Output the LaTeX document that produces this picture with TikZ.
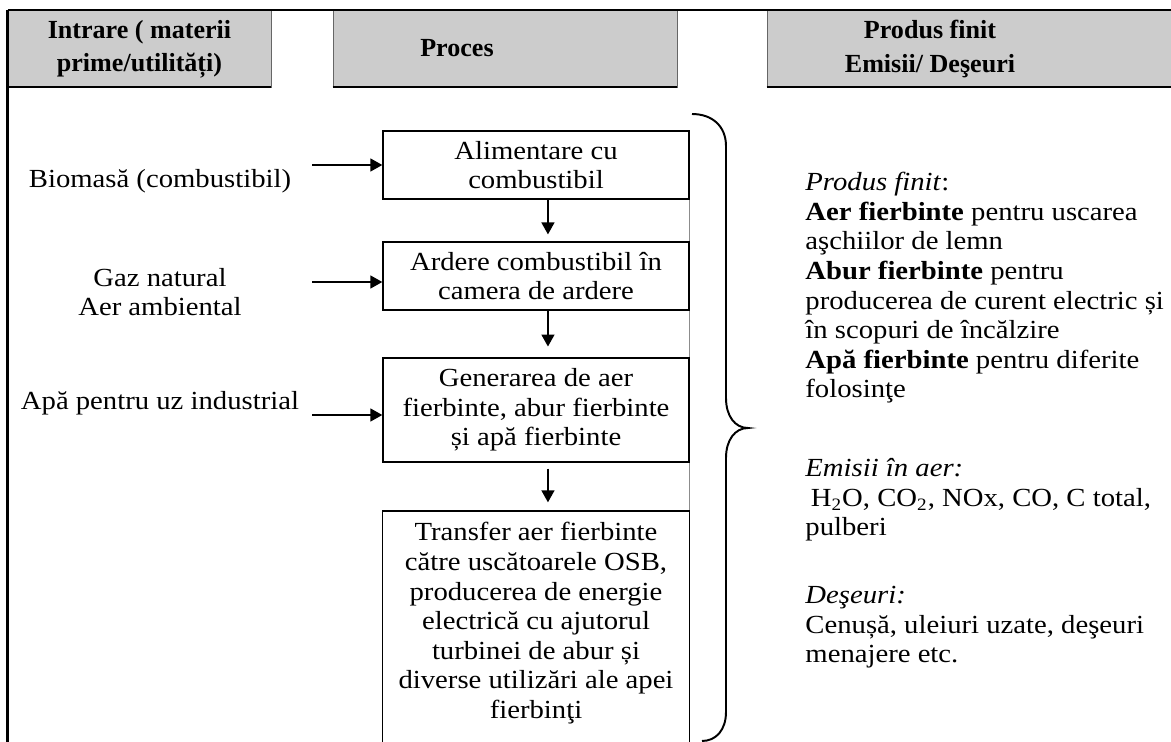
\documentclass[tikz,border=0pt]{standalone}
\usepackage{fontspec}
\setmainfont{Liberation Serif}[FakeStretch=1.1]
\newfontfamily\headfamily{Liberation Serif}
\usetikzlibrary{arrows.meta, positioning, calc}

\newcommand{\bodyfont}{\fontsize{12pt}{13.6pt}\selectfont}
\newcommand{\headfont}{\headfamily\fontsize{12pt}{15.2pt}\selectfont\bfseries}

\begin{document}
\begin{tikzpicture}[
      x=0.46pt, y=-0.46pt,
      every node/.style={font=\bodyfont},
      head/.style={draw=black!60, fill=black!20, minimum height=35.4pt, inner sep=0pt},
      headtext/.style={font=\headfont, align=center, inner sep=0pt},
      procbox/.style={draw=black, line width=0.6pt, minimum width=140.8pt, align=center, inner sep=2pt},
      intext/.style={align=center, inner sep=0pt},
      outtext/.style={align=left, anchor=north west, inner sep=0pt},
      line/.style={draw=black, line width=0.6pt, -{Triangle[length=5.5pt, width=6pt]}},
      rule/.style={draw=black, line width=0.9pt},
      grid/.style={draw=black!45, line width=0.4pt}
  ]
      \useasboundingbox (0,0) rectangle (1171,742);
      \coordinate (bot) at (0,742);

      % Header row
      \node [head, minimum width=121pt] (h1) at (139.5,48.5) {};
      \node [head, minimum width=158.2pt] (h2) at (505,48.5) {};
      \node [head, minimum width=185.8pt] (h3) at (969,48.5) {};
      \node [headtext] (h1txt) at (139.5,49) {Intrare ( materii\\prime/utilități)};
      \node [headtext] (h2txt) at (457,48.5) {Proces};
      \node [headtext] (h3txt) at (930,49) {Produs finit\\Emisii/ Deşeuri};
      \draw [rule] (h1.north west) -- (h3.north east);
      \draw [rule] (h1.south west) -- (h1.south east);
      \draw [rule] (h2.south west) -- (h2.south east);
      \draw [rule] (h3.south west) -- (h3.south east);
      \draw [rule, line width=1.2pt] (h1.north west) -- (h1.north west |- bot);

      % Process column
      \node [procbox, minimum height=31.3pt] (feed) at (536,165) {Alimentare cu\\combustibil};
      \draw [grid] (feed.south east) -- (feed.south east |- bot);
      \node [procbox, minimum height=31.3pt] (burn) at (536,276) {Ardere combustibil în\\camera de ardere};
      \node [procbox, minimum height=47.8pt] (gen) at (536,410) {Generarea de aer\\fierbinte, abur fierbinte\\și apă fierbinte};
      \node [procbox, draw=none, anchor=north, inner ysep=5pt] (use) at (536,511) {Transfer aer fierbinte\\către uscătoarele OSB,\\producerea de energie\\electrică cu ajutorul\\turbinei de abur și\\diverse utilizări ale apei\\fierbinţi};
      \draw [line width=0.6pt] (use.west |- bot) |- (use.north) -| (use.east |- bot);

      \draw [line, shorten >=3.2pt] ([xshift=5.5pt]feed.south) -- ([xshift=5.5pt]feed.south |- burn.north);
      \draw [line, shorten >=5pt] ([xshift=5.5pt]burn.south) -- ([xshift=5.5pt]burn.south |- gen.north);
      \draw [line, shorten <=2.8pt, shorten >=4pt] ([xshift=5.5pt]gen.south) -- ([xshift=5.5pt]gen.south |- use.north);

      % Inputs
      \node [intext] (bio) at (160,181) {Biomasă (combustibil)};
      \node [intext] (gas) at (160,292) {Gaz natural\\Aer ambiental};
      \node [intext] (water) at (160,403) {Apă pentru uz industrial};
      \coordinate (bioin) at (312,165);
      \coordinate (gasin) at (312,282);
      \coordinate (waterin) at (312,415);
      \draw [line] (bioin) -- (feed.west);
      \draw [line] (gasin) -- (gasin -| burn.west);
      \draw [line] (waterin) -- (waterin -| gen.west);

      % Brace
      \draw [line width=0.9pt] (692,114) .. controls (712,114) and (726,126) .. (726,146)
            -- (726,398) .. controls (726,416) and (735,428) .. (748,428)
            .. controls (735,428) and (726,440) .. (726,458)
            -- (726,712) .. controls (726,730) and (716,741) .. (702,741);

      % Outputs
      \node [outtext] (product) at (805,172) {\textit{Produs finit}:\\\textbf{Aer fierbinte} pentru uscarea\\aşchiilor de lemn\\\textbf{Abur fierbinte} pentru\\producerea de curent electric și\\în scopuri de încălzire\\\textbf{Apă fierbinte} pentru diferite\\folosinţe};
      \node [outtext] (emission) at (805,458) {\textit{Emisii în aer:}\\\hspace*{2.5pt}H\textsubscript{2}O, CO\textsubscript{2}, NOx, CO, C total,\\pulberi};
      \node [outtext] (waste) at (805,586) {\textit{Deşeuri:}\\Cenușă, uleiuri uzate, deşeuri\\menajere etc.};
  \end{tikzpicture}
\end{document}
